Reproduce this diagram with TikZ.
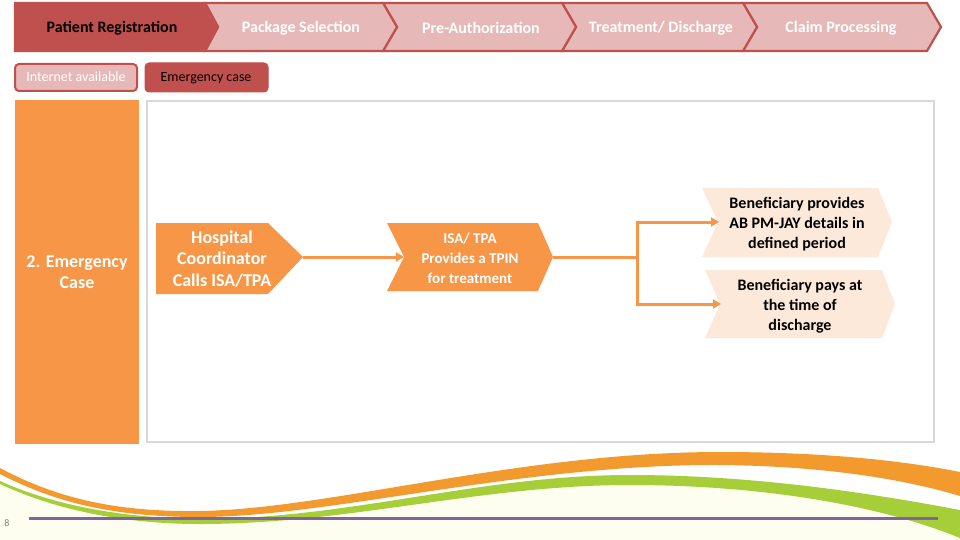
\documentclass[tikz,border=0pt]{standalone}
\usepackage{fontspec}
\setmainfont{Carlito}
\usetikzlibrary{arrows.meta}
\definecolor{dred}{HTML}{C0504D}
\definecolor{pinkf}{HTML}{E6B9B8}
\definecolor{orf}{HTML}{F79646}
\definecolor{peach}{HTML}{FDE9D9}
\definecolor{lgray}{HTML}{D9D9D9}
\definecolor{purp}{HTML}{8064A2}
\definecolor{swo}{HTML}{F39A2E}
\definecolor{swg}{HTML}{A6CE39}
\definecolor{cream}{HTML}{FEFEF0}
\tikzset{
  hdr/.style={fill=pinkf,draw=dred,line width=2.2pt,line join=miter},
  hdrtxt/.style={font=\fontsize{16}{18}\selectfont\bfseries,text=white},
  conn/.style={draw=orf,line width=3pt},
  arr/.style={conn,-{Triangle[length=8pt,width=9pt]}},
}
\begin{document}
\begin{tikzpicture}[x=1pt,y=-1pt]
\useasboundingbox (0,0) rectangle (960,540);
\fill[white] (0,0) rectangle (960,540);
% bottom swooshes
\fill[cream] (0,484) .. controls (60,512) and (130,524) .. (200,524) .. controls (350,524) and (480,485) .. (630,485) .. controls (760,485) and (880,505) .. (960,538) -- (960,540) -- (0,540) -- cycle;
\fill[swo] (0,468) .. controls (60,500) and (120,512) .. (200,511) .. controls (330,509) and (520,452) .. (720,452) .. controls (820,452) and (900,460) .. (960,472) -- (960,496) .. controls (900,478) and (820,466) .. (720,465) .. controls (520,464) and (330,517) .. (200,517) .. controls (120,517) and (60,505) .. (0,474) -- cycle;
\fill[swg] (0,481) .. controls (60,508) and (130,518) .. (200,519) .. controls (350,519) and (480,475) .. (630,475) .. controls (760,475) and (880,495) .. (960,510) -- (960,538) .. controls (880,505) and (760,485) .. (630,485) .. controls (480,485) and (350,524) .. (200,524) .. controls (130,524) and (60,512) .. (0,484) -- cycle;
\draw[purp,line width=3pt] (29,518) -- (938,518);
\node[text=gray,font=\fontsize{10}{11}\selectfont] (pg) at (7,523) {8};
% header chevrons
\draw[hdr] (743,3) -- (927,3) -- (941,27) -- (927,51) -- (743,51) -- (757,27) -- cycle;
\draw[hdr] (562,3) -- (743,3) -- (757,27) -- (743,51) -- (562,51) -- (576,27) -- cycle;
\draw[hdr] (383,3) -- (562,3) -- (576,27) -- (562,51) -- (383,51) -- (397,27) -- cycle;
\draw[hdr] (205,3) -- (383,3) -- (397,27) -- (383,51) -- (205,51) -- (218,27) -- cycle;
\draw[hdr,fill=dred] (15,3) -- (205,3) -- (218,27) -- (205,51) -- (15,51) -- cycle;
\node[hdrtxt,text=black] (h1) at (112,28) {Patient Registration};
\node[hdrtxt] (h2) at (301,28) {Package Selection};
\node[hdrtxt] (h3) at (481,28) {Pre-Authorization};
\node[hdrtxt] (h4) at (661,28) {Treatment/ Discharge};
\node[hdrtxt] (h5) at (841,28) {Claim Processing};
% second row
\draw[fill=pinkf,draw=dred,line width=2pt,rounded corners=4pt] (15,64) rectangle (137,91);
\node[text=white,font=\fontsize{14}{16}\selectfont] (ia) at (76,77) {Internet available};
\draw[fill=dred,draw=dred,line width=1pt,rounded corners=4pt] (145,63) rectangle (268,92);
\node[text=black,font=\fontsize{14}{16}\selectfont] (ec) at (206,78) {Emergency case};
% main area
\fill[orf] (15,100) rectangle (139,444);
\node[text=white,font=\fontsize{18}{21}\selectfont\bfseries,align=center] (em) at (77,272) {2. Emergency\\Case};
\draw[lgray,line width=2.5pt] (147,101) rectangle (934,442);
% flow shapes
\fill[orf] (156,223) -- (268,223) -- (303,257) -- (268,294) -- (156,294) -- cycle;
\coordinate (hosptip) at (303,257);
\node[text=white,font=\fontsize{18}{21.5}\selectfont\bfseries,align=center] (hosp) at (222,259) {Hospital\\Coordinator\\Calls ISA/TPA};
\fill[orf] (387,223) -- (538,223) -- (553,257) -- (538,291) -- (387,291) -- (404,257) -- cycle;
\coordinate (isanotch) at (404,257);
\coordinate (isatip) at (553,257);
\node[text=white,font=\fontsize{15}{20}\selectfont\bfseries,align=center] (isa) at (470,258) {ISA/ TPA\\Provides a TPIN\\for treatment};
\fill[peach] (702,188) -- (878,188) -- (892,222) -- (878,257) -- (702,257) -- (718,222) -- cycle;
\coordinate (b1notch) at (719,222);
\node[text=black,font=\fontsize{16}{20}\selectfont\bfseries,align=center] (b1) at (797,224) {Beneficiary provides\\AB PM-JAY details in\\defined period};
\fill[peach] (705,270) -- (882,270) -- (895,304) -- (882,338) -- (705,338) -- (720,304) -- cycle;
\coordinate (b2notch) at (721,304);
\node[text=black,font=\fontsize{16}{20}\selectfont\bfseries,align=center] (b2) at (800,306) {Beneficiary pays at\\the time of\\discharge};
% connectors
\draw[arr] (hosptip) -- (isanotch);
\coordinate (br) at (637,257);
\draw[conn] (isatip) -- (br);
\draw[arr,line join=miter] (br) |- (b1notch);
\draw[arr,line join=miter] (br) |- (b2notch);
\end{tikzpicture}
\end{document}
